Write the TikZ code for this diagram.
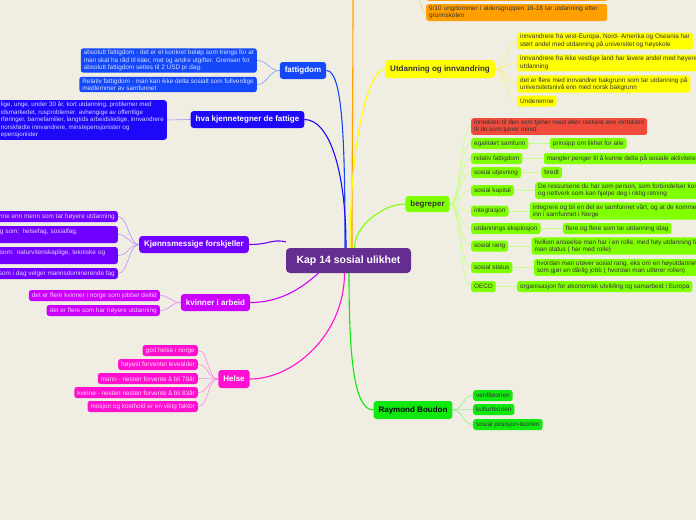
\documentclass[tikz,border=0pt]{standalone}
\usepackage{fontspec}
\setmainfont{Liberation Sans}
\usetikzlibrary{positioning}

\definecolor{paper}{HTML}{F0EEE2}
\definecolor{rootcol}{HTML}{662D91}
\definecolor{fatcol}{HTML}{1448F8}
\definecolor{hvacol}{HTML}{1E08FA}
\definecolor{kjonncol}{HTML}{7000FF}
\definecolor{arbcol}{HTML}{CC00FF}
\definecolor{helsecol}{HTML}{FF10D0}
\definecolor{utdcol}{HTML}{FFFF00}
\definecolor{begrcol}{HTML}{80FF00}
\definecolor{raycol}{HTML}{10E810}
\definecolor{orgcol}{HTML}{FFA000}
\definecolor{redcol}{HTML}{F04B3C}
\definecolor{darktext}{HTML}{333333}

\pgfdeclarelayer{paperlayer}
\pgfdeclarelayer{linelayer}
\pgfsetlayers{paperlayer,linelayer,main}

\tikzset{
  root/.style={rounded corners=4pt, fill=rootcol, text=white,
    font=\fontsize{10.5}{12}\selectfont\bfseries, minimum width=125, minimum height=25},
  topic/.style={rounded corners=3pt, font=\fontsize{8}{9.5}\selectfont\bfseries,
    minimum height=17, inner xsep=5, inner ysep=1.5},
  leaf/.style={rounded corners=2.5pt, font=\fontsize{6.4}{7.5}\selectfont,
    minimum height=11, inner xsep=3, inner ysep=1.6, align=left},
  branch/.style={line width=1.1pt},
  twig/.style={line width=0.6pt},
  lightleaf/.style={leaf, fill=#1, text=white!82!#1},
  darkleaf/.style={leaf, fill=#1, text=darktext},
}

\begin{document}
\begin{tikzpicture}[x=1pt, y=-1pt]
  \useasboundingbox (0,0) rectangle (696,520);
  \begin{pgfonlayer}{paperlayer}
    \fill[paper] (0,0) rectangle (696,520);
  \end{pgfonlayer}

  % centre
  \node[root] (kap) at (348.5,260.5) {Kap 14 sosial ulikhet};

  % main topics
  \node[topic, fill=fatcol, text=white] (fat) at (303,70.5) {fattigdom};
  \node[topic, fill=hvacol, text=white] (hva) at (247.5,119.5) {hva kjennetegner de fattige};
  \node[topic, fill=kjonncol, text=white] (kjonn) at (194,244.5) {Kjønnsmessige forskjeller};
  \node[topic, fill=arbcol, text=white] (arb) at (215.5,302.5) {kvinner i arbeid};
  \node[topic, fill=helsecol, text=white, minimum height=18] (helse) at (234,379) {Helse};
  \node[topic, fill=utdcol, text=darktext, minimum height=18] (utd) at (440,69) {Utdanning og innvandring};
  \node[topic, fill=begrcol, text=darktext, minimum height=16] (begr) at (427.5,204) {begreper};
  \node[topic, fill=raycol, text=black, minimum height=18] (ray) at (413,410) {Raymond Boudon};
  \coordinate (orgtop) at (353,-12);
  \coordinate (orghub) at (413,-14);

  % orange (mostly above the page)
  \node[darkleaf=orgcol, minimum width=182, anchor=south west] (orgA) at (426,1) {};
  \node[darkleaf=orgcol, text width=175, anchor=west, minimum height=17] (orgB) at (426,12.5)
    {9/10 ungdommer i aldersgruppen 16-18 tar utdanning etter\\ grunnskolen};

  % fattigdom
  \node[lightleaf=fatcol, anchor=east] (fatA) at (257,60.5)
    {absolutt fattigdom - det er et konkret beløp som trengs for at\\
     man skal ha råd til klær, mat og andre utgifter. Grensen for\\
     absolutt fattigdom settes til 2 USD pr dag.};
  \node[lightleaf=fatcol, anchor=east] (fatB) at (257,84.5)
    {Relativ fattigdom - man kan ikke delta sosialt som fullverdige\\
     medlemmer av samfunnet};

  % hva kjennetegner
  \node[lightleaf=hvacol, anchor=east, font=\fontsize{6.25}{7.5}\selectfont] (hvaA) at (167,120)
    {lige, unge, under 30 år, kort utdanning, problemer med\\
     idsmarkedet, rusproblemer. avhengige av offentlige\\
     rføringer, barnefamilier, langtids arbeidsledige, innvandrere\\
     norskfødte innvandrere, minstepensjonister og\\
     epensjonister};

  % kjonn
  \node[lightleaf=kjonncol, anchor=east] (kjonnA) at (118,216.5)
    {inne enn menn som tar høyere utdanning};
  \node[lightleaf=kjonncol, anchor=east, text width=115, minimum height=17] (kjonnB) at (118,234.5)
    {g som: helsefag, sosialfag,\\ ~};
  \node[lightleaf=kjonncol, anchor=east, text width=115, minimum height=17] (kjonnC) at (118,255.5)
    {som: naturvitenskaplige, tekniske og\\ ~};
  \node[lightleaf=kjonncol, anchor=east] (kjonnD) at (118,273.5)
    {som i dag velger mannsdominerende fag};

  % kvinner i arbeid
  \node[lightleaf=arbcol, anchor=east] (arbA) at (160,295.5) {det er flere kvinner i norge som jobber deltid};
  \node[lightleaf=arbcol, anchor=east] (arbB) at (160,310.5) {det er flere som har høyere utdanning};

  % helse
  \node[lightleaf=helsecol, anchor=east] (helseA) at (198,350.5) {god helse i norge};
  \node[lightleaf=helsecol, anchor=east] (helseB) at (198,364.5) {høyest forventet levealder};
  \node[lightleaf=helsecol, anchor=east] (helseC) at (198,378.5) {mann - nesten forvente å bli 79år};
  \node[lightleaf=helsecol, anchor=east] (helseD) at (198,392.5) {kvinne - nesten nesten forvente å bli 83år};
  \node[lightleaf=helsecol, anchor=east] (helseE) at (198,406.5) {mosjon og kosthold er en viktg faktor};

  % utdanning og innvandring
  \node[darkleaf=utdcol, anchor=west] (utdA) at (517,41)
    {innvandrere fra vest-Europa, Nord- Amerika og Oseania har\\
     størt andel med utdanning på universitet og høyskole};
  \node[darkleaf=utdcol, anchor=west] (utdB) at (517,63)
    {innvandrere fra ikke vestlige land har lavere andel med høyere\\
     utdanning};
  \node[darkleaf=utdcol, anchor=west] (utdC) at (517,84)
    {det er flere med innvandrer bakgrunn som tar utdanning på\\
     universitetsnivå enn med norsk bakgrunn};
  \node[darkleaf=utdcol, anchor=west] (utdD) at (517,101) {Underemne};

  % begreper
  \node[darkleaf=redcol, anchor=west] (red) at (471,126.5)
    {inntekten til den som tjener mest øker raskere enn inntekten\\
     til de som tjener minst.};
  \node[darkleaf=begrcol, anchor=west] (egal) at (471,143.5) {egalitært samfunn};
  \node[darkleaf=begrcol, anchor=west] (relfat) at (471,158.5) {relativ fattigdom};
  \node[darkleaf=begrcol, anchor=west] (utjev) at (471,172.5) {sosial utjevning};
  \node[darkleaf=begrcol, anchor=west] (kapit) at (471,190.5) {sosial kapital};
  \node[darkleaf=begrcol, anchor=west] (integ) at (471,211) {integrasjon};
  \node[darkleaf=begrcol, anchor=west] (ekspl) at (471,228.5) {utdannings eksplosjon};
  \node[darkleaf=begrcol, anchor=west] (rang) at (471,246) {sosial rang};
  \node[darkleaf=begrcol, anchor=west] (status) at (471,267.5) {sosial status};
  \node[darkleaf=begrcol, anchor=west] (oecd) at (471,286.5) {OECD};

  \node[darkleaf=begrcol, right=21 of egal] (egalS) {prinsipp om likhet for alle};
  \node[darkleaf=begrcol, right=21 of relfat] (relfatS) {mangler penger til å kunne delta på sosiale aktiviteter};
  \node[darkleaf=begrcol, right=20 of utjev] (utjevS) {bredt};
  \node[darkleaf=begrcol, right=21 of kapit] (kapitS)
    {De ressursene du har som person, som forbindelser kontakter\\ og nettverk som kan hjelpe deg i riktig retning};
  \node[darkleaf=begrcol, right=21 of integ] (integS)
    {integrere og bli en del av samfunnet vårt, og at de kommer\\ inn i samfunnet i Norge};
  \node[darkleaf=begrcol, right=22 of ekspl] (eksplS) {flere og flere som tar utdanning idag};
  \node[darkleaf=begrcol, right=23 of rang] (rangS)
    {hvilken anseelse man har i en rolle, med høy utdanning får\\ man status ( har med rolle)};
  \node[darkleaf=begrcol, right=21 of status] (statusS)
    {hvordan man utøver sosial rang, eks om en høyutdannet\\ som gjør en dårlig jobb ( hvordan man utfører rollen)};
  \node[darkleaf=begrcol, right=21 of oecd] (oecdS) {organisasjon for økonomisk utvikling og samarbeid i Europa};

  % raymond boudon
  \node[darkleaf=raycol, anchor=west] (rayA) at (473,395.5) {verditeorien};
  \node[darkleaf=raycol, anchor=west] (rayB) at (473,409.5) {kulturteorien};
  \node[darkleaf=raycol, anchor=west] (rayC) at (473,424.5) {sosial posisjon-teorien};

  \begin{pgfonlayer}{linelayer}
    % branches from the centre
    \draw[branch, orgcol] ([xshift=3.5]kap.north) .. controls +(0,-100) and +(0,100) .. (orgtop);
    \draw[branch, fatcol] (fat.east) .. controls +(16,0) and +(0,-110) .. ([xshift=-3.5]kap.north);
    \draw[branch, hvacol] (hva.east) .. controls +(24,0) and +(0,-80) .. ([xshift=-2.5]kap.north);
    \draw[branch, utdcol] (utd.west) .. controls +(-16,0) and +(0,-110) .. ([xshift=1.5]kap.north);
    \draw[branch, begrcol] (begr.west) .. controls +(-22,0) and +(0,-22) .. ([xshift=6]kap.north);
    \draw[branch, kjonncol] (kjonn.east) .. controls +(22,0) and +(-15,-3) .. ([yshift=6]kap.north west);
    \draw[branch, arbcol] (arb.east) .. controls +(35,0) and +(-12,10) .. ([xshift=-30]kap.south);
    \draw[branch, helsecol] (helse.east) .. controls +(45,0) and +(0,60) .. ([xshift=-4]kap.south);
    \draw[branch, raycol] (ray.west) .. controls +(-20,0) and +(0,80) .. ([xshift=0.5]kap.south);

    % twigs
    \draw[twig, orgcol!55] (orghub) .. controls +(6,4) and +(-6,0) .. (orgB.west);
    \foreach \c in {fatA,fatB}
      \draw[twig, fatcol!55] (fat.west) .. controls +(-11,0) and +(11,0) .. (\c.east);
    \draw[twig, hvacol!45] (hva.west) -- (hvaA.east);
    \foreach \c in {kjonnA,kjonnB,kjonnC,kjonnD}
      \draw[twig, kjonncol!45] (kjonn.west) .. controls +(-10,0) and +(10,0) .. (\c.east);
    \foreach \c in {arbA,arbB}
      \draw[twig, arbcol!50] (arb.west) .. controls +(-10,0) and +(10,0) .. (\c.east);
    \foreach \c in {helseA,helseB,helseC,helseD,helseE}
      \draw[twig, helsecol!50] (helse.west) .. controls +(-11,0) and +(11,0) .. (\c.east);
    \foreach \c in {utdA,utdB,utdC,utdD}
      \draw[twig, utdcol!70!orgcol!60] (utd.east) .. controls +(11,0) and +(-11,0) .. (\c.west);
    \foreach \c in {red,egal,relfat,utjev,kapit,integ,ekspl,rang,status,oecd}
      \draw[twig, begrcol!45] (begr.east) .. controls +(11,0) and +(-11,0) .. (\c.west);
    \foreach \a/\b in {egal/egalS,relfat/relfatS,utjev/utjevS,kapit/kapitS,integ/integS,ekspl/eksplS,rang/rangS,status/statusS,oecd/oecdS}
      \draw[twig, begrcol!45] (\a.east) -- (\b.west);
    \foreach \c in {rayA,rayB,rayC}
      \draw[twig, raycol!50] (ray.east) .. controls +(11,0) and +(-11,0) .. (\c.west);
  \end{pgfonlayer}
\end{tikzpicture}
\end{document}
